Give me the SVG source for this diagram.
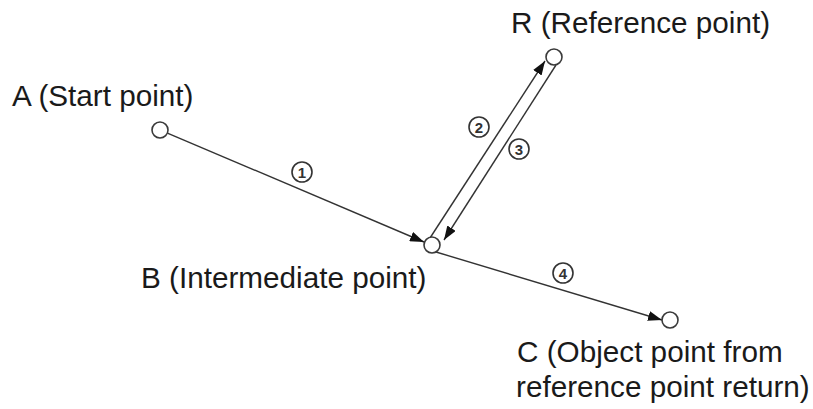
<svg xmlns="http://www.w3.org/2000/svg" width="813" height="409" viewBox="0 0 813 409">
<style>
.lbl{font-family:"Liberation Sans",Arial,sans-serif;font-size:29.7px;fill:#1a1a1a}
.pt{fill:#fff;stroke:#3a3a3a;stroke-width:1.6}
.ln{stroke:#333;stroke-width:1.4;fill:none}
.num circle{fill:#fff;stroke:#333;stroke-width:1.6}
.num text{font-family:"Liberation Sans",Arial,sans-serif;font-size:15px;font-weight:bold;fill:#333;text-anchor:middle}
</style>
<defs>
<marker id="arr" markerUnits="userSpaceOnUse" markerWidth="15" markerHeight="10" refX="14" refY="5" orient="auto">
<path d="M0,0 L14,5 L0,10 Z" fill="#111"/>
</marker>
</defs>
<rect width="813" height="409" fill="#fff"/>
<g id="connectors">
<line class="ln" x1="167.4" y1="133.1" x2="424" y2="242" marker-end="url(#arr)"/>
<line class="ln" x1="430" y1="238" x2="545" y2="61" marker-end="url(#arr)"/>
<line class="ln" x1="556" y1="65" x2="444" y2="240" marker-end="url(#arr)"/>
<line class="ln" x1="436" y1="252" x2="662" y2="320" marker-end="url(#arr)"/>
<g class="num"><circle cx="302" cy="172" r="10"/><text x="302" y="177.5">1</text></g>
<g class="num"><circle cx="479" cy="127" r="10"/><text x="479" y="132.5">2</text></g>
<g class="num"><circle cx="519" cy="149" r="10"/><text x="519" y="154.5">3</text></g>
<g class="num"><circle cx="563" cy="273" r="10"/><text x="563" y="278.5">4</text></g>
</g>
<g id="A"><circle class="pt" cx="160" cy="130" r="8"/><text class="lbl" x="12" y="106">A (Start point)</text></g>
<g id="R"><circle class="pt" cx="554" cy="57" r="8"/><text class="lbl" x="511" y="33">R (Reference point)</text></g>
<g id="B"><circle class="pt" cx="432" cy="245" r="8"/><text class="lbl" x="141" y="288">B (Intermediate point)</text></g>
<g id="C"><circle class="pt" cx="670" cy="320" r="8"/><text class="lbl" x="517" y="362">C (Object point from</text><text class="lbl" x="516" y="397">reference point return)</text></g>
</svg>
